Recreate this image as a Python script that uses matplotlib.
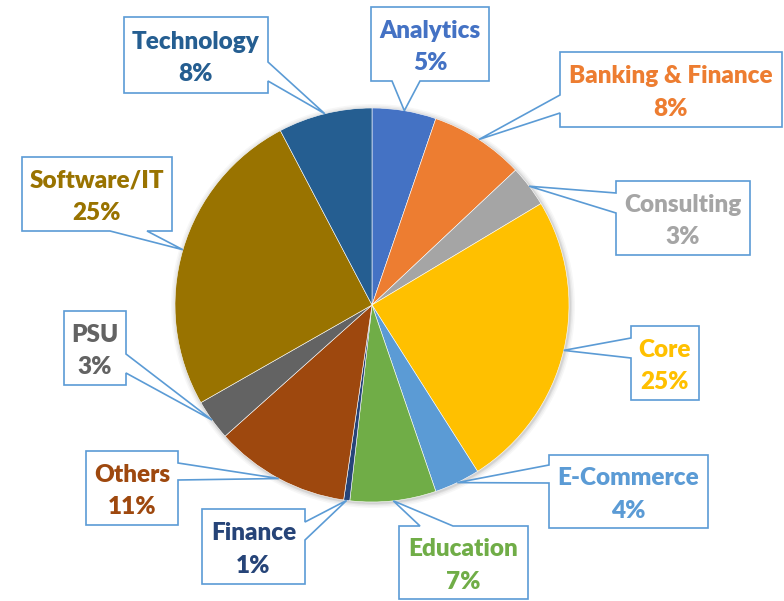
import matplotlib
matplotlib.use("Agg")
import matplotlib.pyplot as plt
from matplotlib.patches import Polygon, Circle
import numpy as np

# ---- data ----
categories = ["Analytics", "Banking & Finance", "Consulting", "Core", "E-Commerce",
              "Education", "Finance", "Others", "PSU", "Software/IT", "Technology"]
values = [5.25, 7.75, 3.4, 24.6, 3.75, 7.05, 0.5, 11.1, 3.35, 25.55, 7.7]
pct_labels = ["5%", "8%", "3%", "25%", "4%", "7%", "1%", "11%", "3%", "25%", "8%"]
colors = ["#4472C4", "#ED7D31", "#A5A5A5", "#FFC000", "#5B9BD5",
          "#70AD47", "#264478", "#9E480E", "#636363", "#997300", "#255E91"]

# ---- layout (pixel coords, y downward) ----
W, H = 784, 601
CX, CY, R = 372, 305, 197
callouts = {
    "Analytics": ((371, 7, 489, 81), "bottom", (392, 420)),
    "Banking & Finance": ((560, 52, 782, 127), "left", (95, 113)),
    "Consulting": ((616, 181, 750, 255), "left", (193, 213)),
    "Core": ((631, 326, 699, 400), "left", (338, 358)),
    "E-Commerce": ((549, 455, 708, 528), "left", (465, 483)),
    "Education": ((399, 526, 528, 599), "top", (420, 453)),
    "Finance": ((202, 509, 305, 584), "right", (522, 540)),
    "Others": ((86, 451, 178, 525), "right", (463, 480)),
    "PSU": ((64, 311, 126, 385), "right", (354, 373)),
    "Software/IT": ((22, 157, 172, 231), "bottom", (110, 147)),
    "Technology": ((124, 17, 268, 93), "right", (62, 81)),
}

def P(x, y):
    return (x, H - y)

fig = plt.figure(figsize=(W / 100, H / 100), dpi=100)
ax = fig.add_axes([0, 0, 1, 1])
ax.set_xlim(0, W)
ax.set_ylim(0, H)
ax.axis("off")

# soft shadow
for k, a in zip([5, 3.5, 2, 1], [0.03, 0.04, 0.05, 0.06]):
    ax.add_patch(Circle(P(CX + 1, CY + 1), R + k, color="black", alpha=a, lw=0, zorder=0))

wedges, _ = ax.pie(values, colors=colors, startangle=90, counterclock=False,
                   center=P(CX, CY), radius=R,
                   wedgeprops=dict(edgecolor="white", linewidth=0.4))
ax.set_xlim(0, W)
ax.set_ylim(0, H)
ax.set_aspect("equal")
for w in wedges:
    w.set_zorder(1)

edge_col = "#5B9BD5"
for w, cat, pct, col in zip(wedges, categories, pct_labels, colors):
    mid = np.deg2rad((w.theta1 + w.theta2) / 2)
    tx = CX + R * np.cos(mid)
    ty = CY - R * np.sin(mid)
    (x0, y0, x1, y1), side, (b0, b1) = callouts[cat]
    if side == "right":
        pts = [(x0, y0), (x1, y0), (x1, b0), (tx, ty), (x1, b1), (x1, y1), (x0, y1)]
    elif side == "left":
        pts = [(x0, y0), (x1, y0), (x1, y1), (x0, y1), (x0, b1), (tx, ty), (x0, b0)]
    elif side == "bottom":
        pts = [(x0, y0), (x1, y0), (x1, y1), (b1, y1), (tx, ty), (b0, y1), (x0, y1)]
    else:  # top
        pts = [(x0, y0), (b0, y0), (tx, ty), (b1, y0), (x1, y0), (x1, y1), (x0, y1)]
    poly = Polygon([P(*p) for p in pts], closed=True, facecolor="white",
                   edgecolor=edge_col, linewidth=1.2, zorder=3)
    ax.add_patch(poly)
    ax.text(*P((x0 + x1) / 2, (y0 + y1) / 2 + 3), f"{cat}\n{pct}", ha="center", va="center",
            multialignment="center", color=col, fontsize=17.5, fontweight="heavy",
            family=["Lato", "DejaVu Sans"], linespacing=1.6, zorder=4)

fig.savefig("out.png", dpi=100)
